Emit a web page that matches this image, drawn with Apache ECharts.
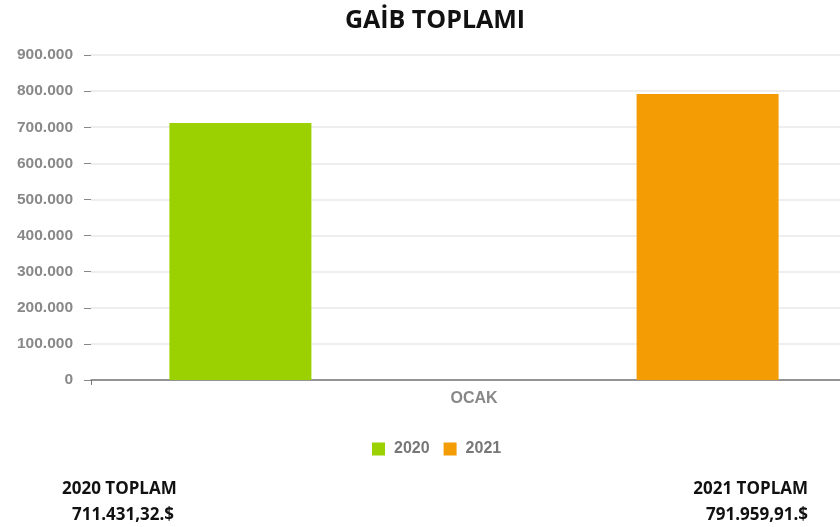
<!DOCTYPE html>
<html>
<head>
<meta charset="utf-8">
<script src="https://cdn.jsdelivr.net/npm/echarts@6/dist/echarts.min.js"></script>
<style>
    html,body{margin:0;padding:0;background:#fff;}
    #chart{width:840px;height:527px;}
</style>
</head>
<body>
<div id="chart"></div>
<script>
    let categories = ['OCAK'];
    let years = ['2020', '2021'];
    let values2020 = [711431.32];
    let values2021 = [791959.91];
    let totals = ['711.431,32.$', '791.959,91.$'];

    let colors = ['#9bd100', '#f39c04'];

    function formatTick(v){
        // 900000 -> 900.000
        return String(v).replace(/\B(?=(\d{3})+(?!\d))/g, '.');
    }

    let chart = echarts.init(document.getElementById('chart'));
    let option = {
        animation: false,
        color: colors,
        title: {
            text: 'GAİB TOPLAMI',
            left: 430,
            top: 3,
            textAlign: 'center',
            textStyle: {
                fontFamily: 'Open Sans',
                fontWeight: 'bold',
                fontSize: 25,
                color: '#111'
            }
        },
        legend: {
            data: years,
            top: 436,
            left: 367,
            itemWidth: 13,
            itemHeight: 13,
            itemGap: 14,
            icon: 'rect',
            textStyle: {
                fontFamily: 'Arial',
                fontWeight: 'bold',
                fontSize: 16,
                color: '#777',
                padding: [0, 0, 0, 4]
            }
        },
        grid: {
            left: 91,
            width: 766,
            top: 55,
            bottom: 147,
            containLabel: false,
            outerBoundsMode: 'none'
        },
        xAxis: {
            type: 'category',
            data: categories,
            axisLine: {lineStyle: {color: '#777', width: 1.5}},
            axisTick: {show: true, length: 5, lineStyle: {color: '#777'}},
            axisLabel: {
                margin: 11,
                fontFamily: 'Arial',
                fontWeight: 'bold',
                fontSize: 16,
                color: '#888'
            }
        },
        yAxis: {
            type: 'value',
            min: 0,
            max: 900000,
            interval: 100000,
            axisLine: {show: false},
            axisTick: {show: true, length: 7, lineStyle: {color: '#888'}},
            splitLine: {lineStyle: {color: '#e8e8e8', width: 1.5}},
            axisLabel: {
                margin: 18,
                formatter: formatTick,
                fontFamily: 'Arial',
                fontWeight: 'bold',
                fontSize: 15.5,
                color: '#888'
            }
        },
        series: [
            {
                name: years[0],
                type: 'bar',
                data: values2020,
                barWidth: 142,
                barGap: '229%'
            },
            {
                name: years[1],
                type: 'bar',
                data: values2021,
                barWidth: 142,
                barGap: '229%'
            }
        ],
        graphic: [
            {type: 'text', left: 62, top: 481, style: {text: years[0] + ' TOPLAM', font: 'bold 17px "Open Sans", Arial', fill: '#111'}},
            {type: 'text', left: 72, top: 507, style: {text: totals[0], font: 'bold 17px "Open Sans", Arial', fill: '#111'}},
            {type: 'text', right: 32, top: 481, style: {text: years[1] + ' TOPLAM', font: 'bold 17px "Open Sans", Arial', fill: '#111'}},
            {type: 'text', right: 32, top: 507, style: {text: totals[1], font: 'bold 17px "Open Sans", Arial', fill: '#111'}}
        ]
    };
    chart.setOption(option);
</script>
</body>
</html>
